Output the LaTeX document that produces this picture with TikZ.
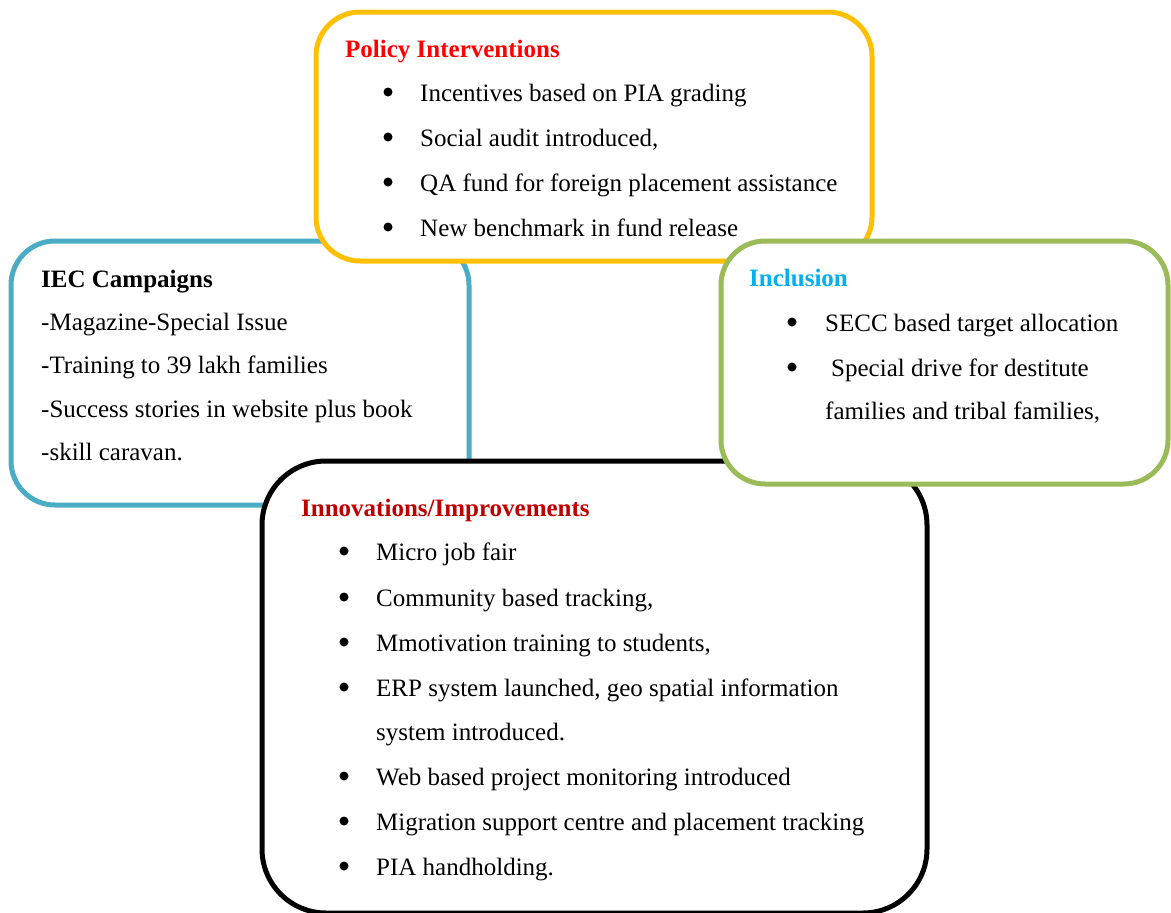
\documentclass[tikz,border=0pt]{standalone}
\usepackage{fontspec}
\setmainfont{Liberation Serif}

\definecolor{polyellow}{HTML}{FFC000}
\definecolor{iecblue}{HTML}{4BACC6}
\definecolor{incgreen}{HTML}{9BBB59}
\definecolor{inccyan}{HTML}{00B0F0}
\definecolor{innored}{HTML}{C00000}

\tikzset{
    box/.style={line width=5pt, rounded corners=44pt, fill=white},
    heading/.style={anchor=base west, inner sep=0pt, font=\fontsize{25}{29}\selectfont\bfseries},
    entry/.style={anchor=base west, inner sep=0pt, font=\fontsize{25}{29}\selectfont},
}

\begin{document}
\begin{tikzpicture}[x=1pt, y=-1pt]
    \useasboundingbox (0,0) rectangle (1171,913);

    % IEC campaigns, lowest layer
    \draw[box, draw=iecblue] (11,241) rectangle (469,505);
    \node[heading] (iectitle) at (41,287) {IEC Campaigns};
    \foreach \y/\t [count=\i] in {330/-Magazine-Special Issue, 373/-Training to 39 lakh families,
        417/-Success stories in website plus book, 460/-skill caravan.}
        \node[entry] (iec\i) at (41,\y) {\t};

    % policy interventions
    \draw[box, draw=polyellow] (316,12) rectangle (872,261);
    \node[heading, text=red] (poltitle) at (345,57) {Policy Interventions};
    \foreach \y/\t [count=\i] in {101/Incentives based on PIA grading, 146/{Social audit introduced,},
        191/QA fund for foreign placement assistance, 236/New benchmark in fund release} {
        \fill (388,\y-9) circle (4.5);
        \node[entry] (pol\i) at (420,\y) {\t};
    }

    % innovations / improvements
    \draw[box, draw=black, rounded corners=64pt] (262,461) rectangle (927,913);
    \node[heading, text=innored] (innotitle) at (301,516) {Innovations/Improvements};
    \foreach \y/\t [count=\i] in {560/Micro job fair, 606/{Community based tracking,},
        651/{Mmotivation training to students,}, 696/{ERP system launched, geo spatial information},
        785/Web based project monitoring introduced, 830/Migration support centre and placement tracking,
        875/PIA handholding.} {
        \fill (344,\y-9) circle (4.5);
        \node[entry] (inno\i) at (376,\y) {\t};
    }
    \node[entry] (innocont) at (376,740) {system introduced.};

    % inclusion, top layer
    \draw[box, draw=incgreen] (721,241) rectangle (1168,484);
    \node[heading, text=inccyan] (inctitle) at (749,286) {Inclusion};
    \fill (792,322) circle (4.5);
    \node[entry] (inc1) at (825,331) {SECC based target allocation};
    \fill (792,367) circle (4.5);
    \node[entry] (inc2) at (831,376) {Special drive for destitute};
    \node[entry] (inc3) at (825,419) {families and tribal families,};
\end{tikzpicture}
\end{document}
